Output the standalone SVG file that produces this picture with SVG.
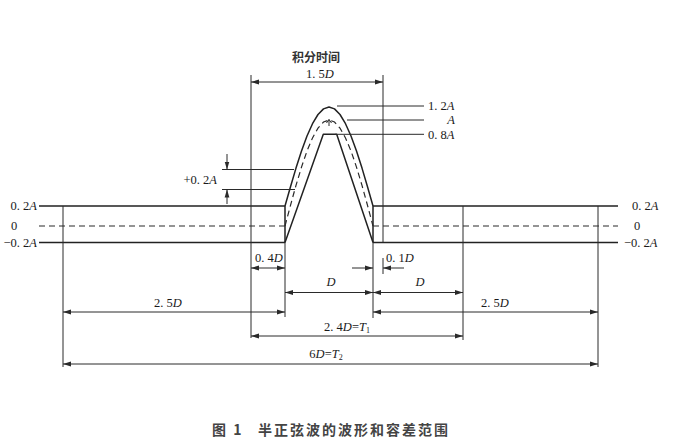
<svg xmlns="http://www.w3.org/2000/svg" width="678" height="446" viewBox="0 0 678 446">
<style>
.ln{stroke:#2a2a2a;stroke-width:1;fill:none}
.wv{stroke:#222;stroke-width:1.5;fill:none;stroke-linejoin:round}
.ds{stroke:#2a2a2a;stroke-width:1.2;fill:none;stroke-dasharray:6 4}
.dim{stroke:#2a2a2a;stroke-width:1;fill:none;marker-end:url(#ar)}
.dim2{stroke:#2a2a2a;stroke-width:1;fill:none;marker-start:url(#ar);marker-end:url(#ar)}
text{font-family:"Liberation Serif","Noto Sans CJK SC",serif;font-size:12.5px;fill:#1a1a1a}
.i{font-style:italic}
.cjk{font-family:"Noto Sans CJK SC",sans-serif;font-size:12px;font-weight:bold;fill:#333}
.cap{font-family:"Noto Sans CJK SC",sans-serif;font-size:14px;font-weight:bold;fill:#444;letter-spacing:2px}
</style>
<defs>
<marker id="ar" markerUnits="userSpaceOnUse" markerWidth="9" markerHeight="6" refX="8" refY="3" orient="auto-start-reverse">
<path d="M0,0.6 L8,3 L0,5.4 z" fill="#2a2a2a"/>
</marker>
</defs>
<rect width="678" height="446" fill="#fff"/>

<g id="waveform">
<path class="wv" d="M39,206 H285 M373,206 H618 M39,242.5 H285 M373,242.5 H618 M285,206 V242.5 M373,206 V242.5"/>
<path class="ds" d="M39,226 H285 M373,226 H618"/>
<polyline class="wv" points="285,206 290.5,186.7 296,168.1 301.5,151 307,136 312.5,123.7 318,114.5 323.5,108.9 329,107 334.5,108.9 340,114.5 345.5,123.7 351,136 356.5,151 362,168.1 367.5,186.7 373,206"/>
<polyline class="ds" points="285,226 290.5,205.3 296,185.4 301.5,167.1 307,151 312.5,137.9 318,128.1 323.5,122 329,120 334.5,122 340,128.1 345.5,137.9 351,151 356.5,167.1 362,185.4 367.5,205.3 373,226"/>
<path class="wv" d="M285,242.5 L323.3,134.3 H336.7 L373,242.5"/>
<path class="ln" d="M326.5,123 L329,119.5 L331.5,123 M329,119.5 V126"/>
</g>

<g id="extension-lines">
<path class="ln" d="M251,75 V338 M383,75 V242.5 M383,258 V274 M63,206 V367 M285,242.5 V317 M373,242.5 V318 M463,206 V340 M598,206 V367"/>
<path class="ln" d="M222,169.5 H294 M222,189.5 H295"/>
<path class="ln" d="M337,106 H424 M347,120 H424 M335,134.3 H424"/>
</g>

<g id="connectors">
<line class="dim2" x1="251" y1="82" x2="383" y2="82"/>
<line class="dim" x1="227" y1="154" x2="227" y2="169.5"/>
<line class="dim" x1="227" y1="204" x2="227" y2="189.5"/>
<line class="dim2" x1="251" y1="268" x2="285" y2="268"/>
<line class="dim" x1="352" y1="268" x2="373" y2="268"/>
<line class="dim" x1="404" y1="268" x2="383" y2="268"/>
<line class="dim2" x1="285" y1="292.5" x2="373" y2="292.5"/>
<line class="dim2" x1="373" y1="292.5" x2="463" y2="292.5"/>
<line class="dim2" x1="63" y1="312" x2="285" y2="312"/>
<line class="dim2" x1="373" y1="312" x2="598" y2="312"/>
<line class="dim2" x1="251" y1="336" x2="463" y2="336"/>
<line class="dim2" x1="63" y1="364" x2="598" y2="364"/>
</g>

<g id="labels">
<text class="cjk" x="316" y="62" text-anchor="middle">积分时间</text>
<text x="320" y="78" text-anchor="middle">1. 5<tspan class="i">D</tspan></text>
<text x="428" y="110">1. 2<tspan class="i">A</tspan></text>
<text x="455" y="124" text-anchor="end" class="i">A</text>
<text x="428" y="139">0. 8<tspan class="i">A</tspan></text>
<text x="217" y="184" text-anchor="end">+0. 2<tspan class="i">A</tspan></text>
<text x="37" y="210" text-anchor="end">0. 2<tspan class="i">A</tspan></text>
<text x="11" y="230">0</text>
<text x="37" y="247" text-anchor="end">−0. 2<tspan class="i">A</tspan></text>
<text x="632" y="210">0. 2<tspan class="i">A</tspan></text>
<text x="634" y="230">0</text>
<text x="624" y="247">−0. 2<tspan class="i">A</tspan></text>
<text x="255" y="262">0. 4<tspan class="i">D</tspan></text>
<text x="386" y="262">0. 1<tspan class="i">D</tspan></text>
<text x="331" y="286" text-anchor="middle" class="i">D</text>
<text x="420" y="286" text-anchor="middle" class="i">D</text>
<text x="168" y="307" text-anchor="middle">2. 5<tspan class="i">D</tspan></text>
<text x="495" y="307" text-anchor="middle">2. 5<tspan class="i">D</tspan></text>
<text x="347" y="331" text-anchor="middle">2. 4<tspan class="i">D</tspan>=<tspan class="i">T</tspan><tspan font-size="8" dy="2">1</tspan></text>
<text x="326" y="358" text-anchor="middle">6<tspan class="i">D</tspan>=<tspan class="i">T</tspan><tspan font-size="8" dy="2">2</tspan></text>
</g>

<g id="caption">
<text class="cap" x="212" y="435">图 1</text>
<text class="cap" x="258" y="435">半正弦波的波形和容差范围</text>
</g>
</svg>
